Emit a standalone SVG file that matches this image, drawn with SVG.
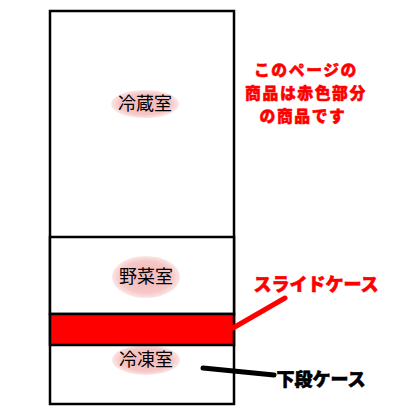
<svg xmlns="http://www.w3.org/2000/svg" width="420" height="420" viewBox="0 0 420 420">
<style>
.box{fill:#fff;stroke:#000;stroke-width:2.5}
.lbl{font-family:"Noto Sans CJK JP","Noto Sans",sans-serif;font-size:18px;fill:#000;text-anchor:middle}
.note{font-family:"Noto Sans CJK JP","Noto Sans",sans-serif;font-weight:900;text-anchor:middle;stroke-linejoin:round}
.n1{font-size:15.8px;letter-spacing:1.6px;stroke-width:0.5px}
.n2{font-size:18px;stroke-width:0.6px}
</style>
<defs>
<radialGradient id="pink" cx="0.5" cy="0.5" r="0.5">
<stop offset="0" stop-color="#f4b8b8"/>
<stop offset="0.75" stop-color="#f6c6c6"/>
<stop offset="1" stop-color="#fbe6e6"/>
</radialGradient>
</defs>
<rect width="420" height="420" fill="#fff"/>
<g id="fridge">
<rect class="box" x="50" y="11" width="184" height="393"/>
</g>
<g id="reizoushitsu">
<ellipse cx="145" cy="104" rx="34" ry="14" fill="url(#pink)"/>
<text class="lbl" x="145" y="110">冷蔵室</text>
</g>
<g id="yasaishitsu">
<rect class="box" x="50" y="237" width="184" height="77"/>
<ellipse cx="146" cy="277" rx="34" ry="21" fill="url(#pink)"/>
<text class="lbl" x="146" y="283">野菜室</text>
</g>
<g id="reitoushitsu">
<ellipse cx="146" cy="360" rx="34" ry="15" fill="url(#pink)"/>
<text class="lbl" x="146" y="366">冷凍室</text>
</g>
<g id="slide-case">
<rect x="50" y="314" width="184" height="31" fill="#ff0000" stroke="#000" stroke-width="2.5"/>
</g>
<g id="connectors">
<line x1="233" y1="328" x2="285" y2="298" stroke="#ff0000" stroke-width="5" stroke-linecap="round"/>
<line x1="203" y1="368" x2="274" y2="375" stroke="#000" stroke-width="5" stroke-linecap="round"/>
</g>
<g id="note">
<text class="note n1" x="306" y="76" fill="#ff0000" stroke="#ff0000">このページの</text>
<text class="note n1" x="306" y="99" fill="#ff0000" stroke="#ff0000">商品は赤色部分</text>
<text class="note n1" x="303" y="122" fill="#ff0000" stroke="#ff0000">の商品です</text>
</g>
<g id="slide-label">
<text class="note n2" x="316" y="291" fill="#ff0000" stroke="#ff0000">スライドケース</text>
</g>
<g id="lower-label">
<text class="note n2" x="321" y="386" fill="#000" stroke="#000">下段ケース</text>
</g>
</svg>
